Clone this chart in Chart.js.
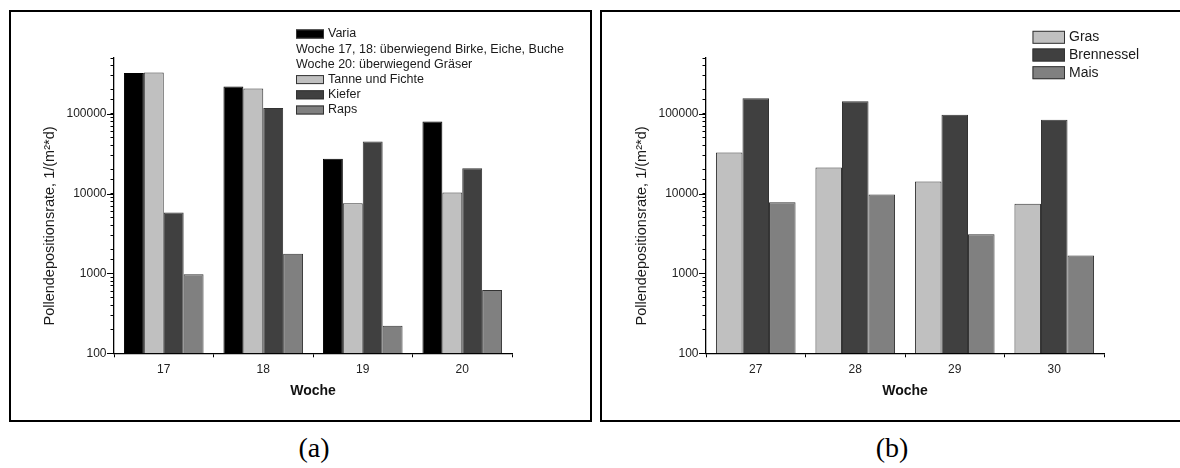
<!DOCTYPE html>
<html>
<head>
<meta charset="utf-8">
<script src="https://cdn.jsdelivr.net/npm/chart.js@4"></script>
<style>
  body { margin: 0; background: #fff; width: 1180px; height: 468px; overflow: hidden; position: relative; }
  .panel { position: absolute; top: 10px; height: 412px; border: 2.5px solid #000; box-sizing: border-box; }
  #panelA { left: 9px; width: 583px; }
  #panelB { left: 599.5px; width: 600px; }
  .box { position: absolute; top: 0; width: 590px; height: 420px; }
  #boxA { left: 0; }
  #boxB { left: 591.5px; }
  .cap { position: absolute; top: 432px; width: 80px; text-align: center; font-family: "Liberation Serif", "Times New Roman", serif; font-size: 28px; color: #000; }
</style>
</head>
<body>
<div class="panel" id="panelA"></div>
<div class="panel" id="panelB"></div>
<div class="box" id="boxA"><canvas id="chartA"></canvas></div>
<div class="box" id="boxB"><canvas id="chartB"></canvas></div>
<div class="cap" style="left:274px">(a)</div>
<div class="cap" style="left:852px">(b)</div>

<script>
// Werte (log-Skala, daher Schätzungen)
const wochenA = ['17', '18', '19', '20'];
const varia = [324000, 220000, 27300, 80200];
const tanneFichte = [330000, 208000, 7600, 10300];
const kiefer = [5800, 118000, 45000, 20800];
const raps = [980, 1760, 222, 622];

const wochenB = ['27', '28', '29', '30'];
const gras = [32800, 21300, 14200, 7450];
const brennessel = [157000, 144000, 97300, 84200];
const mais = [7820, 9750, 3100, 1680];

const yMajor = [100, 1000, 10000, 100000];
const yTitel = 'Pollendepositionsrate, 1/(m²*d)';

const FONT = '"Liberation Sans", Arial, sans-serif';
const HELL = '#c0c0c0', DUNKEL = '#404040', MITTEL = '#808080';

// Legende von Hand, weil zwei Zeilen keine Farbfelder haben
const boxLegend = {
    id: 'boxLegend',
    afterDraw(chart, args, opts) {
        const ctx = chart.ctx;
        ctx.save();
        ctx.font = opts.size + 'px ' + FONT;
        ctx.textBaseline = 'middle';
        opts.items.forEach((item, i) => {
            const y = opts.y + i * opts.step;
            if (item.color) {
                ctx.fillStyle = item.color;
                ctx.fillRect(opts.x, y - opts.h / 2, opts.w, opts.h);
                ctx.strokeStyle = '#333';
                ctx.lineWidth = 1;
                ctx.strokeRect(opts.x + 0.5, y - opts.h / 2 + 0.5, opts.w - 1, opts.h - 1);
                ctx.fillStyle = '#1a1a1a';
                ctx.fillText(item.text, opts.x + opts.w + 4, y);
            } else {
                ctx.fillStyle = '#1a1a1a';
                ctx.fillText(item.text, opts.x, y);
            }
        });
        ctx.restore();
    }
};

// lange Striche fuer die Zehnerpotenzen + y-Titel (sitzt tiefer als die Achsenmitte)
const achsenExtras = {
    id: 'achsenExtras',
    afterDraw(chart) {
        const ctx = chart.ctx, y = chart.scales.y;
        ctx.save();
        ctx.strokeStyle = '#000';
        ctx.lineWidth = 1;
        yMajor.forEach(v => {
            const py = Math.round(y.getPixelForValue(v)) + 0.5;
            ctx.beginPath();
            ctx.moveTo(y.right - 7, py);
            ctx.lineTo(y.right, py);
            ctx.stroke();
        });
        ctx.translate(50, 226);
        ctx.rotate(-Math.PI / 2);
        ctx.font = '14.5px ' + FONT;
        ctx.fillStyle = '#1a1a1a';
        ctx.textAlign = 'center';
        ctx.textBaseline = 'middle';
        ctx.fillText(yTitel, 0, 0);
        ctx.restore();
    }
};

function isPow10(v) {
    const l = Math.log10(v);
    return Math.abs(l - Math.round(l)) < 1e-9;
}

function makeChart(id, labels, datasets, legend) {
    return new Chart(document.getElementById(id), {
        type: 'bar',
        data: { labels: labels, datasets: datasets },
        plugins: [boxLegend, achsenExtras],
        options: {
            responsive: true,
            maintainAspectRatio: false,
            animation: false,
            layout: { padding: { left: 37, top: 58, right: 78, bottom: 0 } },
            datasets: {
                bar: { categoryPercentage: 0.8, barPercentage: 1.0, borderWidth: 1, borderColor: '#333' }
            },
            plugins: {
                legend: { display: false },
                tooltip: { enabled: false },
                boxLegend: legend
            },
            scales: {
                x: {
                    grid: { offset: true, drawOnChartArea: false, tickLength: 4, tickColor: '#000' },
                    border: { color: '#000', width: 1.3 },
                    ticks: { color: '#222', padding: 5, font: { size: 12, family: FONT } },
                    title: {
                        display: true, text: 'Woche', color: '#111',
                        font: { size: 14, weight: 'bold', family: FONT },
                        padding: { top: 0, bottom: 20.6 }
                    },
                    afterFit: s => { s.height = 66.7; }
                },
                y: {
                    type: 'logarithmic',
                    min: 100,
                    max: 500000,
                    grid: { drawOnChartArea: false, tickLength: 3.5, tickColor: '#000' },
                    border: { color: '#000', width: 1.3 },
                    ticks: {
                        autoSkip: false, padding: 4, color: '#222',
                        font: { size: 12, family: FONT },
                        callback: v => isPow10(v) ? String(Math.round(v)) : ''
                    },
                    title: { display: false },
                    afterFit: s => { s.width = 77; }
                }
            }
        }
    });
}

makeChart('chartA', wochenA, [
    { label: 'Varia', data: varia, backgroundColor: '#000', borderColor: '#000' },
    { label: 'Tanne und Fichte', data: tanneFichte, backgroundColor: HELL },
    { label: 'Kiefer', data: kiefer, backgroundColor: DUNKEL },
    { label: 'Raps', data: raps, backgroundColor: MITTEL }
], {
    x: 296, y: 34, w: 28, h: 9, step: 15.2, size: 12.5,
    items: [
        { text: 'Varia', color: '#000' },
        { text: 'Woche 17, 18: überwiegend Birke, Eiche, Buche' },
        { text: 'Woche 20: überwiegend Gräser' },
        { text: 'Tanne und Fichte', color: HELL },
        { text: 'Kiefer', color: DUNKEL },
        { text: 'Raps', color: MITTEL }
    ]
});

makeChart('chartB', wochenB, [
    { label: 'Gras', data: gras, backgroundColor: HELL },
    { label: 'Brennessel', data: brennessel, backgroundColor: DUNKEL },
    { label: 'Mais', data: mais, backgroundColor: MITTEL }
], {
    x: 440.5, y: 37.3, w: 32.5, h: 13, step: 17.7, size: 14,
    items: [
        { text: 'Gras', color: HELL },
        { text: 'Brennessel', color: DUNKEL },
        { text: 'Mais', color: MITTEL }
    ]
});
</script>
</body>
</html>
